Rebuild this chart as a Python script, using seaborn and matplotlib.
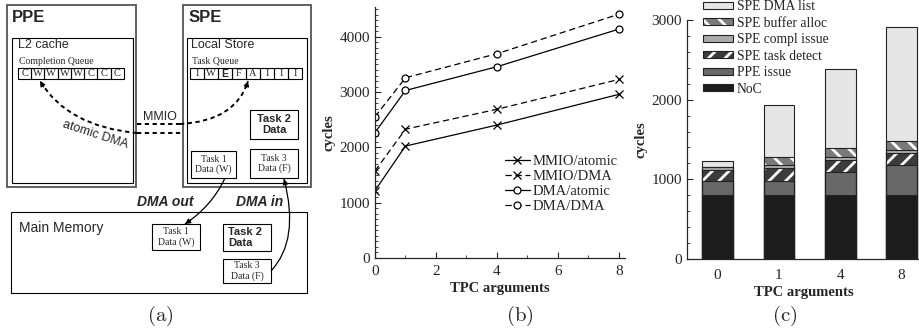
import matplotlib
matplotlib.use('Agg')
import numpy as np
import matplotlib.pyplot as plt
from matplotlib.patches import Rectangle, Patch, PathPatch
from matplotlib.path import Path
import seaborn as sns

# ---- (b) dispatch latency vs number of TPC arguments ----
tpc_args = [0, 1, 4, 8]
mmio_atomic = [1220, 2025, 2405, 2960]
mmio_dma = [1575, 2330, 2690, 3230]
dma_atomic = [2270, 3030, 3460, 4140]
dma_dma = [2555, 3260, 3695, 4410]

# ---- (c) latency breakdown ----
bar_labels = ['0', '1', '4', '8']
noc = [800, 800, 800, 800]
ppe_issue = [175, 185, 295, 380]
spe_task_detect = [145, 155, 150, 155]
spe_compl_issue = [30, 35, 40, 35]
spe_buffer_alloc = [0, 105, 105, 105]
spe_dma_list = [75, 655, 995, 1435]

# ---- (a) diagram text ----
completion_queue = list('CWWWWCCC')
task_queue = list('IWEFAIII')

sns.set_style('ticks')
plt.rcParams['font.family'] = ['Liberation Serif', 'DejaVu Serif']
plt.rcParams['mathtext.fontset'] = 'cm'
plt.rcParams['hatch.linewidth'] = 2.0
plt.rcParams['xtick.direction'] = 'in'
plt.rcParams['ytick.direction'] = 'in'
plt.rcParams['axes.linewidth'] = 0.9

W, H = 920, 333
fig = plt.figure(figsize=(W / 100, H / 100), dpi=100)
SANS = ['Liberation Sans', 'DejaVu Sans']
SERIF = ['Liberation Serif', 'DejaVu Serif']

# ================= (a) =================
axa = fig.add_axes([0, 0, 320 / W, 1])
axa.set_xlim(0, 320)
axa.set_ylim(H, 0)
axa.axis('off')


def box(x0, y0, x1, y1, lw=0.8, ec='black'):
    axa.add_patch(Rectangle((x0, y0), x1 - x0, y1 - y0, fill=False, lw=lw, ec=ec))


def queue(x0, y, cw, letters, bold_idx=()):
    for i, ch in enumerate(letters):
        box(x0 + i * cw, y, x0 + (i + 1) * cw, y + 11, lw=0.8)
        if i in bold_idx:
            axa.text(x0 + (i + 0.5) * cw, y + 6, ch, ha='center', va='center',
                     fontsize=7.5, family=SANS, weight='bold')
        else:
            axa.text(x0 + (i + 0.5) * cw, y + 6, ch, ha='center', va='center',
                     fontsize=7.5, family=SERIF)


def curve(p0, c, p2, dashed=True, lw=1.4):
    path = Path([p0, c, p2], [Path.MOVETO, Path.CURVE3, Path.CURVE3])
    axa.add_patch(PathPatch(path, fill=False, lw=lw, ec='black',
                            ls=(0, (2.2, 1.8)) if dashed else '-'))
    d = np.subtract(p2, c)
    d = d / np.hypot(*d)
    axa.annotate('', xy=p2, xytext=tuple(np.subtract(p2, 7 * d)),
                 arrowprops=dict(arrowstyle='-|>', lw=0.8, color='black',
                                 mutation_scale=8, shrinkA=0, shrinkB=0))


# PPE
box(7, 5, 136, 187, lw=1.3, ec='#555')
box(12, 38, 133, 183)
axa.text(12, 17, 'PPE', fontsize=12, weight='bold', family=SANS, va='center')
axa.text(18, 45, 'L2 cache', fontsize=9, family=SANS, va='center')
axa.text(19, 62, 'Completion Queue', fontsize=7, family=SERIF, va='center')
queue(18, 68, 13.25, completion_queue)

# SPE
box(183, 5, 311, 187, lw=1.3, ec='#555')
box(187, 38, 307, 183)
axa.text(189, 17, 'SPE', fontsize=12, weight='bold', family=SANS, va='center')
axa.text(191, 45, 'Local Store', fontsize=9, family=SANS, va='center')
axa.text(192, 61, 'Task Queue', fontsize=7, family=SERIF, va='center')
queue(190, 68, 14, task_queue, bold_idx=(2,))

box(250, 110, 298, 139)
axa.text(274, 124.5, 'Task 2\nData', ha='center', va='center', fontsize=8,
         weight='bold', family=SANS, linespacing=1.1)
box(191, 151, 236, 178)
axa.text(213.5, 164.5, 'Task 1\nData (W)', ha='center', va='center', fontsize=7,
         family=SERIF, linespacing=1.1)
box(250, 149, 298, 178)
axa.text(274, 163.5, 'Task 3\nData (F)', ha='center', va='center', fontsize=7,
         family=SERIF, linespacing=1.1)

# Main memory
box(11, 212, 307, 293)
axa.text(19, 228, 'Main Memory', fontsize=10, family=SANS, va='center')
box(152, 224, 200, 250)
axa.text(176, 237, 'Task 1\nData (W)', ha='center', va='center', fontsize=7,
         family=SERIF, linespacing=1.1)
box(223, 224, 271, 251)
axa.text(228, 237.5, 'Task 2\nData', ha='left', va='center', fontsize=8,
         weight='bold', family=SANS, linespacing=1.1)
box(223, 259, 271, 283)
axa.text(247, 271, 'Task 3\nData (F)', ha='center', va='center', fontsize=7,
         family=SERIF, linespacing=1.1)

# dashed MMIO / atomic DMA paths
dash = (0, (2.2, 1.8))
axa.plot([137, 180], [124, 124], color='black', lw=1.4, ls=dash)
curve((180, 124), (236, 121), (248, 81))
axa.plot([137, 183], [133, 133], color='black', lw=1.4, ls=dash)
curve((137, 133), (67.5, 126.5), (40, 81))
axa.text(160, 117, 'MMIO', fontsize=9, family=SANS, ha='center', va='center')
axa.text(95, 135, 'atomic DMA', fontsize=9, family=SANS, ha='center',
         va='center', rotation=-18)

# solid DMA arrows
curve((225, 178), (212, 206), (185, 224), dashed=False, lw=0.9)
curve((271, 271), (300, 240), (284, 179), dashed=False, lw=0.9)
axa.text(165, 202, 'DMA out', fontsize=10, family=SANS, weight='bold',
         style='italic', ha='center', va='center')
axa.text(260, 202, 'DMA in', fontsize=10, family=SANS, weight='bold',
         style='italic', ha='center', va='center')

# ================= (b) =================
axb = fig.add_axes([375 / W, 75 / H, 250 / W, 251 / H])
series = [('MMIO/atomic', mmio_atomic, 'x', '-'),
          ('MMIO/DMA', mmio_dma, 'x', (0, (5, 3))),
          ('DMA/atomic', dma_atomic, 'o', '-'),
          ('DMA/DMA', dma_dma, 'o', (0, (5, 3)))]
for name, vals, mk, ls in series:
    sns.lineplot(x=tpc_args, y=vals, ax=axb, color='black', linewidth=0.9,
                 linestyle=ls, marker=mk, markersize=5 if mk == 'o' else 6,
                 markerfacecolor='white', markeredgecolor='black',
                 markeredgewidth=0.9, label=name, errorbar=None)
axb.set_xlim(0, 8.2)
axb.set_ylim(0, 4540)
axb.set_xticks([0, 2, 4, 6, 8])
axb.set_xticks([1, 3, 5, 7], minor=True)
axb.set_yticks([0, 1000, 2000, 3000, 4000])
axb.set_yticks(range(0, 4501, 100), minor=True)
axb.tick_params(labelsize=11, length=4, width=0.8)
axb.tick_params(axis='x', pad=5)
axb.tick_params(which='minor', length=2, width=0.6)
axb.set_xlabel('TPC arguments', fontsize=10.5, weight='bold', labelpad=3)
axb.set_ylabel('cycles', fontsize=10.5, weight='bold', labelpad=3)
sns.despine(ax=axb)
axb.legend(loc='lower right', bbox_to_anchor=(1.0, 0.15), frameon=False,
           fontsize=10.5, borderpad=0, handlelength=1.7, handletextpad=0.2,
           labelspacing=0.12)

# ================= (c) =================
axc = fig.add_axes([687 / W, 74 / H, 233 / W, 239 / H])
layers = [('NoC', noc, '#1c1c1c', None),
          ('PPE issue', ppe_issue, '#686868', None),
          ('SPE task detect', spe_task_detect, '#3c3c3c', '//'),
          ('SPE compl issue', spe_compl_issue, '#ababab', None),
          ('SPE buffer alloc', spe_buffer_alloc, '#7a7a7a', '\\\\'),
          ('SPE DMA list', spe_dma_list, '#e6e6e6', None)]
cum = []
run = [0] * len(bar_labels)
for name, vals, col, hatch in layers:
    run = [a + b for a, b in zip(run, vals)]
    cum.append(run)

# draw cumulative totals from the top layer down
for (name, vals, col, hatch), tot in zip(layers[::-1], cum[::-1]):
    if hatch:
        sns.barplot(x=bar_labels, y=tot, ax=axc, color=col, saturation=1,
                    width=0.5, hatch=hatch, edgecolor='white', linewidth=0)
    else:
        sns.barplot(x=bar_labels, y=tot, ax=axc, color=col, saturation=1,
                    width=0.5, edgecolor='#222', linewidth=0.8)
# outlines for the hatched segments
for (name, vals, col, hatch), tot in zip(layers, cum):
    if hatch:
        sns.barplot(x=bar_labels, y=tot, ax=axc, color='#222', fill=False,
                    width=0.5, linewidth=0.8)

axc.set_xlim(-0.5, 3.3)
axc.set_ylim(0, 3000)
axc.set_yticks([0, 1000, 2000, 3000])
axc.set_yticks(range(0, 3001, 200), minor=True)
axc.tick_params(axis='y', labelsize=11, length=4, width=0.8)
axc.tick_params(axis='y', which='minor', length=2, width=0.6)
axc.tick_params(axis='x', labelsize=11, length=0, pad=7)
axc.set_xlabel('TPC arguments', fontsize=10.5, weight='bold', labelpad=3)
axc.set_ylabel('cycles', fontsize=10.5, weight='bold', labelpad=3)
sns.despine(ax=axc)

handles = []
for name, vals, col, hatch in layers[::-1]:
    if hatch:
        handles.append((Patch(facecolor=col, edgecolor='white', hatch=hatch, lw=0),
                        Patch(facecolor='none', edgecolor='#222', lw=0.8)))
    else:
        handles.append(Patch(facecolor=col, edgecolor='#222', lw=0.8))
axc.legend(handles, [l[0] for l in layers[::-1]], loc='upper left',
           bbox_to_anchor=(703 / W, 333 / H), bbox_transform=fig.transFigure,
           frameon=False, fontsize=9.8, borderpad=0, borderaxespad=0,
           handlelength=2.2, handleheight=0.4, handletextpad=0.3,
           labelspacing=0.26)

# panel captions
for x, lab in [(160, 'a'), (520, 'b'), (785, 'c')]:
    fig.text(x / W, 1 - 316 / H, r'$\mathrm{(%s)}$' % lab, fontsize=15,
             ha='center', va='center')

fig.savefig('out.png', dpi=100)
